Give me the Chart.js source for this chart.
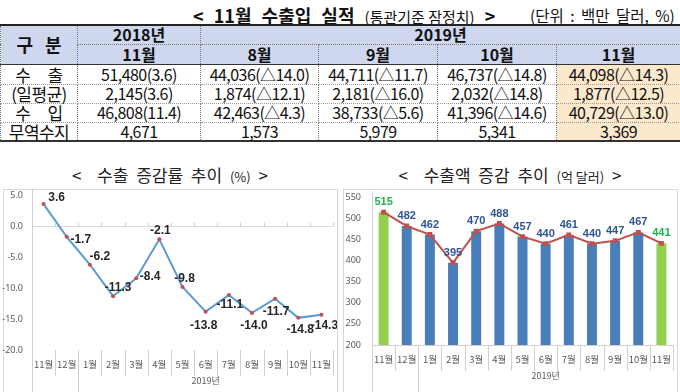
<!DOCTYPE html>
<html>
<head>
<meta charset="utf-8">
<script src="https://cdn.jsdelivr.net/npm/chart.js@4/dist/chart.umd.min.js"></script>
<style>
  body { margin:0; width:680px; height:392px; background:#fff; position:relative; overflow:hidden;
         font-family:"Noto Sans CJK KR", sans-serif; color:#111; }
  .abs { position:absolute; white-space:nowrap; }
  #tbl { position:absolute; left:0; top:24px; width:680px; border-collapse:collapse; table-layout:fixed;
         font-size:16px; letter-spacing:-0.55px; }
  #tbl td, #tbl th { padding:0; text-align:center; line-height:17px; border-left:1px dotted #777; border-right:1px dotted #777; }
  #tbl thead th { background:#cfd7ef; font-weight:bold; letter-spacing:0; }
  #tbl thead tr:first-child th { border-top:2px solid #222; }
  #tbl thead tr:first-child th.y { border-bottom:1px dotted #777; }
  #tbl thead tr:last-child th, #tbl th.gb { border-bottom:1.5px solid #333; }
  #tbl tbody td { border-bottom:1px dotted #999; }
  #tbl tbody tr:last-child td { border-bottom:2px solid #333; }
  #tbl tbody td.hl { background:#fce8cc; }
  .box { position:absolute; top:189px; width:333px; height:210px; border:1px solid #d9d9d9; }
  .ctitle { position:absolute; top:162px; font-size:17px; color:#222; white-space:nowrap; transform:translateX(-50%); word-spacing:4px; }
  .ctitle small { font-size:13px; word-spacing:0; }
</style>
</head>
<body>

<div class="abs" style="left:193px; top:2px; font-size:18px; font-weight:bold; word-spacing:6px;">&lt; 11월 수출입 실적 <span style="font-size:15px; font-weight:normal; word-spacing:0;">(통관기준 잠정치)</span> &gt;</div>
<div class="abs" style="left:530px; top:4px; font-size:15.5px; word-spacing:3px;">(단위 : 백만 달러, %)</div>

<table id="tbl">
  <colgroup><col style="width:77px"><col style="width:123px"><col style="width:118px"><col style="width:119px"><col style="width:119px"><col style="width:124px"></colgroup>
  <thead>
    <tr style="height:19px"><th rowspan="2" class="gb" style="font-size:18px; word-spacing:8px;">구 분</th><th class="y" id="y2018"></th><th class="y" colspan="4" id="y2019"></th></tr>
    <tr style="height:20px" id="monthRow"></tr>
  </thead>
  <tbody id="body"></tbody>
</table>

<div class="ctitle" style="left:170px;">&lt;&nbsp; 수출 증감률 추이 <small>(%)</small> &gt;</div>
<div class="ctitle" style="left:510px;">&lt;&nbsp; 수출액 증감 추이 <small>(억 달러)</small> &gt;</div>

<div class="box" style="left:3px;"></div>
<div class="box" style="left:343px;"></div>
<div class="abs" style="left:0px; top:181px; width:337px; height:211px;"><canvas id="rateChart"></canvas></div>
<div class="abs" style="left:340px; top:181px; width:337px; height:211px;"><canvas id="amountChart"></canvas></div>

<script>
// table data
const tableYears = ['2018년', '2019년']
const tableMonths = ['11월', '8월', '9월', '10월', '11월']
const rowNames = ['수 출', '(일평균)', '수 입', '무역수지']
const exportsRow = ['51,480(3.6)', '44,036(△14.0)', '44,711(△11.7)', '46,737(△14.8)', '44,098(△14.3)']
const dailyAvgRow = ['2,145(3.6)', '1,874(△12.1)', '2,181(△16.0)', '2,032(△14.8)', '1,877(△12.5)']
const importsRow = ['46,808(11.4)', '42,463(△4.3)', '38,733(△5.6)', '41,396(△14.6)', '40,729(△13.0)']
const balanceRow = ['4,671', '1,573', '5,979', '5,341', '3,369']

// chart data
const months = ['11월', '12월', '1월', '2월', '3월', '4월', '5월', '6월', '7월', '8월', '9월', '10월', '11월']
const groupLabel = '2019년'
const growthRate = [3.6, -1.7, -6.2, -11.3, -8.4, -2.1, -9.8, -13.8, -11.1, -14.0, -11.7, -14.8, -14.3]
const exportAmount = [515, 482, 462, 395, 470, 488, 457, 440, 461, 440, 447, 467, 441]

// label placement for the rate chart (dx, dy from the point)
const rateLabelOffset = [[13,-6],[14,3],[10,-8],[5,-9],[14,-2],[1,-9],[2,-8],[-2,14],[1,10],[2,13],[1,13],[2,12],[3,11]]

// build the table
document.getElementById('y2018').textContent = tableYears[0]
document.getElementById('y2019').textContent = tableYears[1]
document.getElementById('monthRow').innerHTML = tableMonths.map(m => `<th>${m}</th>`).join('')
const rows = [exportsRow, dailyAvgRow, importsRow, balanceRow]
const rowHeights = [20, 19, 19, 18]
document.getElementById('body').innerHTML = rows.map((r, i) => {
  const cells = r.map((v, j) => `<td${j === r.length - 1 ? ' class="hl"' : ''}>${v}</td>`).join('')
  const ws = (i === 0 || i === 2) ? 'word-spacing:14px;' : ''
  return `<tr style="height:${rowHeights[i]}px"><td style="font-size:17px;${ws}">${rowNames[i]}</td>${cells}</tr>`
}).join('')

// category separators + group label under the x axis
const separators = {
  id: 'separators',
  afterDraw(chart, args, opts) {
    const { ctx, chartArea: a, scales: { x, y } } = chart
    const n = months.length
    const w = (a.right - a.left) / n
    ctx.save()
    ctx.strokeStyle = '#d0d0d0'
    ctx.lineWidth = 1
    for (let k = 0; k <= n; k++) {
      const px = Math.round(a.left + k * w) + 0.5
      ctx.beginPath()
      ctx.moveTo(px, a.bottom)
      ctx.lineTo(px, (k === 0 || k === 2) ? chart.height : a.bottom + 26)
      ctx.stroke()
      if (opts.zeroTicks && k > 0) {
        const zy = Math.round(y.getPixelForValue(0)) + 0.5
        ctx.beginPath()
        ctx.moveTo(px, zy)
        ctx.lineTo(px, zy - 4)
        ctx.stroke()
      }
    }
    ctx.beginPath()
    ctx.moveTo(Math.round(a.left) + 0.5, a.top - 6)
    ctx.lineTo(Math.round(a.left) + 0.5, a.bottom)
    ctx.stroke()
    ctx.fillStyle = '#595959'
    ctx.font = '9px "Noto Sans CJK KR"'
    ctx.textAlign = 'center'
    ctx.textBaseline = 'middle'
    ctx.fillText(groupLabel, (a.left + 2 * w + a.right) / 2, a.bottom + 31)
    ctx.restore()
  }
}

// value labels drawn next to the points
const valueLabels = {
  id: 'valueLabels',
  afterDatasetsDraw(chart, args, opts) {
    const { ctx } = chart
    const meta = chart.getDatasetMeta(opts.dataset)
    const values = chart.data.datasets[opts.dataset].data
    ctx.save()
    ctx.font = opts.font
    ctx.textAlign = 'center'
    ctx.textBaseline = 'middle'
    meta.data.forEach((pt, i) => {
      const off = opts.offset ? opts.offset[i] : [0, -10]
      ctx.fillStyle = typeof opts.color === 'function' ? opts.color(i) : opts.color
      ctx.fillText(opts.format(values[i]), pt.x + off[0], pt.y + off[1])
    })
    ctx.restore()
  }
}

const tickFont = { family: 'Noto Sans', size: 9 }
const catFont = { family: 'Noto Sans CJK KR', size: 9.5 }

// left chart: export growth rate
new Chart(document.getElementById('rateChart'), {
  type: 'line',
  data: {
    labels: months,
    datasets: [{
      data: growthRate,
      borderColor: '#5b9bd5',
      borderWidth: 2,
      tension: 0,
      pointRadius: 2,
      pointBorderWidth: 0,
      pointBackgroundColor: '#c0504d'
    }]
  },
  options: {
    responsive: true,
    maintainAspectRatio: false,
    animation: false,
    layout: { padding: { top: 1, right: 2 } },
    plugins: {
      legend: { display: false },
      tooltip: { enabled: false },
      separators: { zeroTicks: true },
      valueLabels: {
        dataset: 0,
        font: 'bold 12px "Liberation Sans"',
        color: '#262626',
        offset: rateLabelOffset,
        format: v => v.toFixed(1)
      }
    },
    scales: {
      x: {
        offset: true,
        grid: { display: false },
        border: { display: false },
        ticks: { font: catFont, color: '#595959', padding: 1, maxRotation: 0, autoSkip: false },
        afterFit: s => { s.height = 42 }
      },
      y: {
        min: -20, max: 5,
        ticks: { stepSize: 5, font: tickFont, color: '#595959', padding: 9, callback: v => v.toFixed(1) },
        grid: { drawTicks: false, color: c => c.tick && c.tick.value === 0 ? '#d9d9d9' : 'rgba(0,0,0,0)' },
        border: { display: false },
        afterFit: s => { s.width = 32 }
      }
    }
  },
  plugins: [separators, valueLabels]
})

// right chart: export amount
const isEdge = i => i === 0 || i === months.length - 1
new Chart(document.getElementById('amountChart'), {
  type: 'bar',
  data: {
    labels: months,
    datasets: [
      {
        type: 'line',
        data: exportAmount,
        borderColor: '#c0504d',
        borderWidth: 2,
        tension: 0,
        pointStyle: 'rect',
        pointRadius: 3.5,
        pointBorderWidth: 0,
        pointBackgroundColor: '#c0504d',
        order: 1
      },
      {
        data: exportAmount,
        backgroundColor: exportAmount.map((v, i) => isEdge(i) ? '#92d050' : '#4a7ebb'),
        barPercentage: 0.43,
        categoryPercentage: 1,
        order: 2
      }
    ]
  },
  options: {
    responsive: true,
    maintainAspectRatio: false,
    animation: false,
    layout: { padding: { top: 1, right: 2 } },
    plugins: {
      legend: { display: false },
      tooltip: { enabled: false },
      separators: {},
      valueLabels: {
        dataset: 0,
        font: 'bold 11px "Liberation Sans"',
        color: i => isEdge(i) ? '#22b14c' : '#2f5597',
        offset: null,
        format: v => String(v)
      }
    },
    scales: {
      x: {
        grid: { display: false },
        border: { display: true, color: '#d0d0d0' },
        ticks: { font: catFont, color: '#595959', padding: 1, maxRotation: 0, autoSkip: false },
        afterFit: s => { s.height = 47 }
      },
      y: {
        min: 200, max: 550,
        ticks: { stepSize: 50, font: tickFont, color: '#595959', padding: 11 },
        grid: { display: false, drawTicks: false },
        border: { display: false },
        afterFit: s => { s.width = 32 }
      }
    }
  },
  plugins: [separators, valueLabels]
})
</script>
</body>
</html>
